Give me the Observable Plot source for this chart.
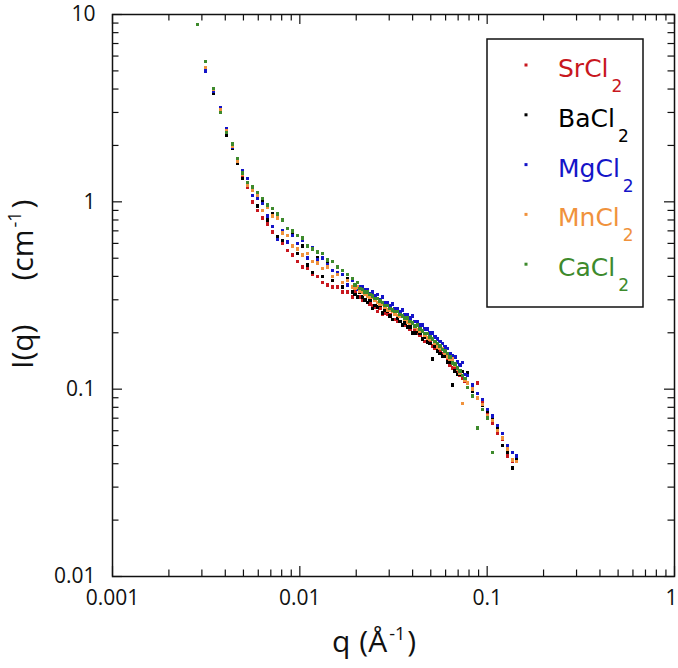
<!DOCTYPE html>
<html><head><meta charset="utf-8">
<script src="https://cdn.jsdelivr.net/npm/d3@7"></script>
<script src="https://cdn.jsdelivr.net/npm/@observablehq/plot@0.6"></script>
<style>body{margin:0;background:#fff}</style>
</head><body><div id="chart"></div>
<script>
const seriesNames = ["SrCl2","BaCl2","MgCl2","MnCl2","CaCl2"];
const seriesLabels = ["SrCl","BaCl","MgCl","MnCl","CaCl"];
const seriesColors = ["#c8171e","#000000","#1414c8","#f0923c","#3d8a2c"];

// coarse q grid (whole range)
const q = [0.00285,0.00314,0.00346,0.00377,0.00406,0.00437,0.00465,0.00494,0.00526,0.00559,0.00595,0.00632,0.00672,0.00715,0.0076,0.00809,0.0086,0.00914,0.00972,0.01034,0.01099,0.01169,0.01243,0.01322,0.01406,0.01495,0.0159,0.0169,0.01797,0.01911,0.02033,0.02161,0.02299,0.02444,0.02599,0.02764,0.02939,0.03126,0.03324,0.03535,0.03758,0.03997,0.0425,0.0452,0.04806,0.05111,0.05435,0.0578,0.06146,0.06536,0.0695,0.07391,0.0786,0.08358,0.08887,0.0945,0.1005,0.1069,0.1137,0.1209,0.1285,0.1367,0.1435];

const I_SrCl2 = [null,5.15,3.92,3.08,2.36,2.00,1.62,1.36,1.20, 1.00,0.90,0.82,0.76,0.69,0.64,0.60,0.55,0.52,0.48,0.45,0.44,0.41,0.40,0.37,0.36,0.35,0.35,0.33,0.33,0.31,0.31, 0.30,0.29,0.28,0.26,0.25,0.25,0.235,0.23,0.22,0.215,0.20,0.20,0.185,0.18,0.17,0.16,0.155,0.145,0.13,0.122,0.115,0.108, 0.098,0.108,0.085,0.074,0.066,0.058,0.054,0.044,0.041,0.042];
const I_BaCl2 = [null,5.02,3.80,3.04,2.28,1.94,1.60,1.33,1.25, 1.16,0.95,1.00,0.80,0.86,0.65,0.62,0.72,0.68,0.53,0.58,0.46,0.42,0.50,0.40,0.47,0.38,0.41,0.35,0.39,0.33,0.31, 0.31,0.29,0.27,0.275,0.255,0.26,0.235,0.24,0.22,0.215,0.20,0.205,0.185,0.178,0.145,0.16,0.15,0.14,0.105,0.12,0.124,0.122, 0.098,0.09,0.082,0.076,0.07,0.062,0.05,0.046,0.038,0.043];
const I_MgCl2 = [null,4.98,3.90,3.16,2.44,1.96,1.67,1.46,1.33, 1.08,1.04,0.98,0.84,0.74,0.63,0.70,0.61,0.66,0.60,0.62,0.50,0.57,0.49,0.50,0.46,0.43,0.42,0.41,0.36,0.38,0.34, 0.35,0.34,0.33,0.32,0.31,0.29,0.285,0.27,0.265,0.25,0.245,0.23,0.22,0.21,0.20,0.185,0.175,0.165,0.15,0.14,0.139,0.118, 0.105,0.095,0.088,0.078,0.072,0.064,0.058,0.05,0.046,0.044];
const I_MnCl2 = [null,5.20,3.98,3.10,2.40,1.99,1.64,1.40,1.23, 1.16,1.08,0.90,0.94,0.84,0.82,0.68,0.66,0.58,0.56,0.52,0.53,0.48,0.47,0.44,0.45,0.40,0.41,0.37,0.38,0.35,0.35, 0.33,0.315,0.31,0.29,0.285,0.265,0.262,0.248,0.245,0.228,0.225,0.208,0.205,0.188,0.185,0.168,0.165,0.148,0.145,0.128,0.084,0.108, 0.10,0.09,0.083,0.072,0.068,0.06,0.055,0.048,0.042,0.041];
const I_CaCl2 = [8.84,5.62,4.02,3.00,2.34,2.03,1.70,1.43,1.27, 1.20,1.12,1.04,0.96,0.92,0.86,0.80,0.72,0.70,0.66,0.64,0.58,0.56,0.54,0.53,0.49,0.48,0.45,0.43,0.41,0.39,0.37, 0.34,0.33,0.315,0.305,0.29,0.28,0.265,0.26,0.245,0.24,0.225,0.22,0.205,0.198,0.185,0.175,0.163,0.155,0.138,0.13,0.118,0.102, 0.092,0.062,0.078,0.07,0.046,null,null,null,null,null];

// finer q grid (mid range, second detector setting)
const qFine = [0.01971,0.02096,0.02229,0.0237,0.0252,0.0268,0.0285,0.0303,0.0322,0.0343,0.0364,0.0388,0.0412,0.0438,0.0466,0.0496,0.0527,0.056,0.0596,0.0634,0.0674,0.0717,0.0762];
const IFine_SrCl2 = [0.33,0.31,0.30,0.285,0.275,0.27,0.255,0.25,0.235,0.23,0.22,0.21,0.205,0.195,0.18,0.178,0.165,0.158,0.15,0.135,0.13,0.118,0.11];
const IFine_BaCl2 = [0.32,0.33,0.30,0.30,0.28,0.28,0.265,0.245,0.25,0.23,0.225,0.215,0.20,0.198,0.19,0.175,0.17,0.155,0.15,0.14,0.125,0.12,0.112];
const IFine_MgCl2 = [0.36,0.35,0.34,0.325,0.315,0.30,0.29,0.28,0.27,0.26,0.25,0.24,0.23,0.22,0.21,0.20,0.19,0.18,0.168,0.155,0.148,0.135,0.12];
const IFine_MnCl2 = [0.345,0.335,0.32,0.31,0.30,0.285,0.275,0.265,0.252,0.245,0.235,0.225,0.215,0.205,0.195,0.185,0.175,0.165,0.155,0.145,0.134,0.122,0.112];
const IFine_CaCl2 = [0.36,0.345,0.33,0.32,0.305,0.295,0.28,0.27,0.26,0.25,0.24,0.23,0.218,0.21,0.198,0.19,0.18,0.17,0.16,0.148,0.136,0.125,0.114];

const xTickLabels = [0.001,0.01,0.1,1];
const yTickLabels = [0.01,0.1,1,10];

const seriesValues = [I_SrCl2, I_BaCl2, I_MgCl2, I_MnCl2, I_CaCl2];
const seriesFine = [IFine_SrCl2, IFine_BaCl2, IFine_MgCl2, IFine_MnCl2, IFine_CaCl2];
const data = [];
seriesNames.forEach((name, s) => {
  seriesValues[s].forEach((v, i) => { if (v != null) data.push({series: name, order: s, q: q[i], I: v}); });
  seriesFine[s].forEach((v, i) => { if (v != null) data.push({series: name, order: s, q: qFine[i], I: v}); });
});
data.sort((a, b) => a.order - b.order);

function minors(majors) {
  const out = [];
  for (let k = 0; k < majors.length - 1; k++) for (let m = 2; m <= 9; m++) out.push(majors[k] * m);
  return out;
}
const xMinor = minors(xTickLabels);
const yMinor = minors(yTickLabels);

const W = 678, H = 668, mL = 112, mR = 4, mT = 14, mB = 92;
const innerW = W - mL - mR, innerH = H - mT - mB;
const majLen = 10, minLen = 6.5;
const tickStyle = {stroke: "#111", strokeWidth: 1.2};
const font = "'Open Sans', sans-serif";
const fmt = d => String(d);

const plot = Plot.plot({
  width: W, height: H,
  marginLeft: mL, marginRight: mR, marginTop: mT, marginBottom: mB,
  style: {fontFamily: font, background: "white", color: "#111", overflow: "visible"},
  x: {type: "log", domain: [0.001, 1]},
  y: {type: "log", domain: [0.01, 10]},
  color: {domain: seriesNames, range: seriesColors},
  marks: [
    Plot.dot(data, {x: "q", y: "I", fill: "series", symbol: "square", r: 2.0}),
    Plot.tickX(xTickLabels, {x: d => d, insetTop: innerH - majLen, ...tickStyle}),
    Plot.tickX(xTickLabels, {x: d => d, insetBottom: innerH - majLen, ...tickStyle}),
    Plot.tickX(xMinor, {x: d => d, insetTop: innerH - minLen, ...tickStyle}),
    Plot.tickX(xMinor, {x: d => d, insetBottom: innerH - minLen, ...tickStyle}),
    Plot.tickY(yTickLabels, {y: d => d, insetRight: innerW - majLen, ...tickStyle}),
    Plot.tickY(yTickLabels, {y: d => d, insetLeft: innerW - majLen, ...tickStyle}),
    Plot.tickY(yMinor, {y: d => d, insetRight: innerW - minLen, ...tickStyle}),
    Plot.tickY(yMinor, {y: d => d, insetLeft: innerW - minLen, ...tickStyle}),
    Plot.axisX(xTickLabels.slice(0, -1), {anchor: "bottom", tickSize: 0, tickPadding: 14, tickFormat: fmt, fontSize: 21, label: null}),
    Plot.axisX(xTickLabels.slice(-1), {anchor: "bottom", tickSize: 0, tickPadding: 14, tickFormat: fmt, fontSize: 21, label: null, dx: -3}),
    Plot.axisY(yTickLabels, {anchor: "left", tickSize: 0, tickPadding: 17, tickFormat: fmt, fontSize: 21, label: null}),
    Plot.frame({stroke: "#111", strokeWidth: 1.5})
  ]
});
document.getElementById("chart").appendChild(plot);

const svg = d3.select(plot);
svg.selectAll("g[aria-label='dot'] path").attr("shape-rendering", "crispEdges");
// x axis title
const xt = svg.append("text").attr("x", 332).attr("y", 652)
  .attr("text-anchor", "start").style("font-family", font).style("font-size", "30px").attr("fill", "#111");
xt.append("tspan").text("q");
xt.append("tspan").attr("dx", 9).text("(Å");
xt.append("tspan").attr("dx", 2).attr("dy", -12).style("font-size", "18px").text("-1");
xt.append("tspan").attr("dx", 2).attr("dy", 12).text(")");
// y axis title
const yt = svg.append("text").attr("transform", `translate(33,369) rotate(-90)`)
  .attr("text-anchor", "start").style("font-family", font).style("font-size", "30px").attr("fill", "#111");
yt.append("tspan").text("I(q)");
yt.append("tspan").attr("dx", 44).text("(cm");
yt.append("tspan").attr("dx", 2).attr("dy", -12).style("font-size", "18px").text("-1");
yt.append("tspan").attr("dx", 3).attr("dy", 12).text(")");

// legend
const lg = svg.append("g");
lg.append("rect").attr("x", 487).attr("y", 39).attr("width", 156).attr("height", 268)
  .attr("fill", "white").attr("stroke", "#111").attr("stroke-width", 1.5);
seriesLabels.forEach((lab, i) => {
  const base = 77 + i * 49.8;
  lg.append("rect").attr("x", 524.5).attr("y", base - 13.5).attr("width", 3).attr("height", 3).attr("fill", seriesColors[i]);
  const t = lg.append("text").attr("x", 558).attr("y", base).attr("fill", seriesColors[i])
    .attr("text-anchor", "start")
    .style("font-family", "'DejaVu Sans', sans-serif").style("font-size", "25px");
  t.append("tspan").text(lab);
  t.append("tspan").attr("dx", 3).attr("dy", 15).style("font-size", "17px").text("2");
});
</script>
</body></html>
